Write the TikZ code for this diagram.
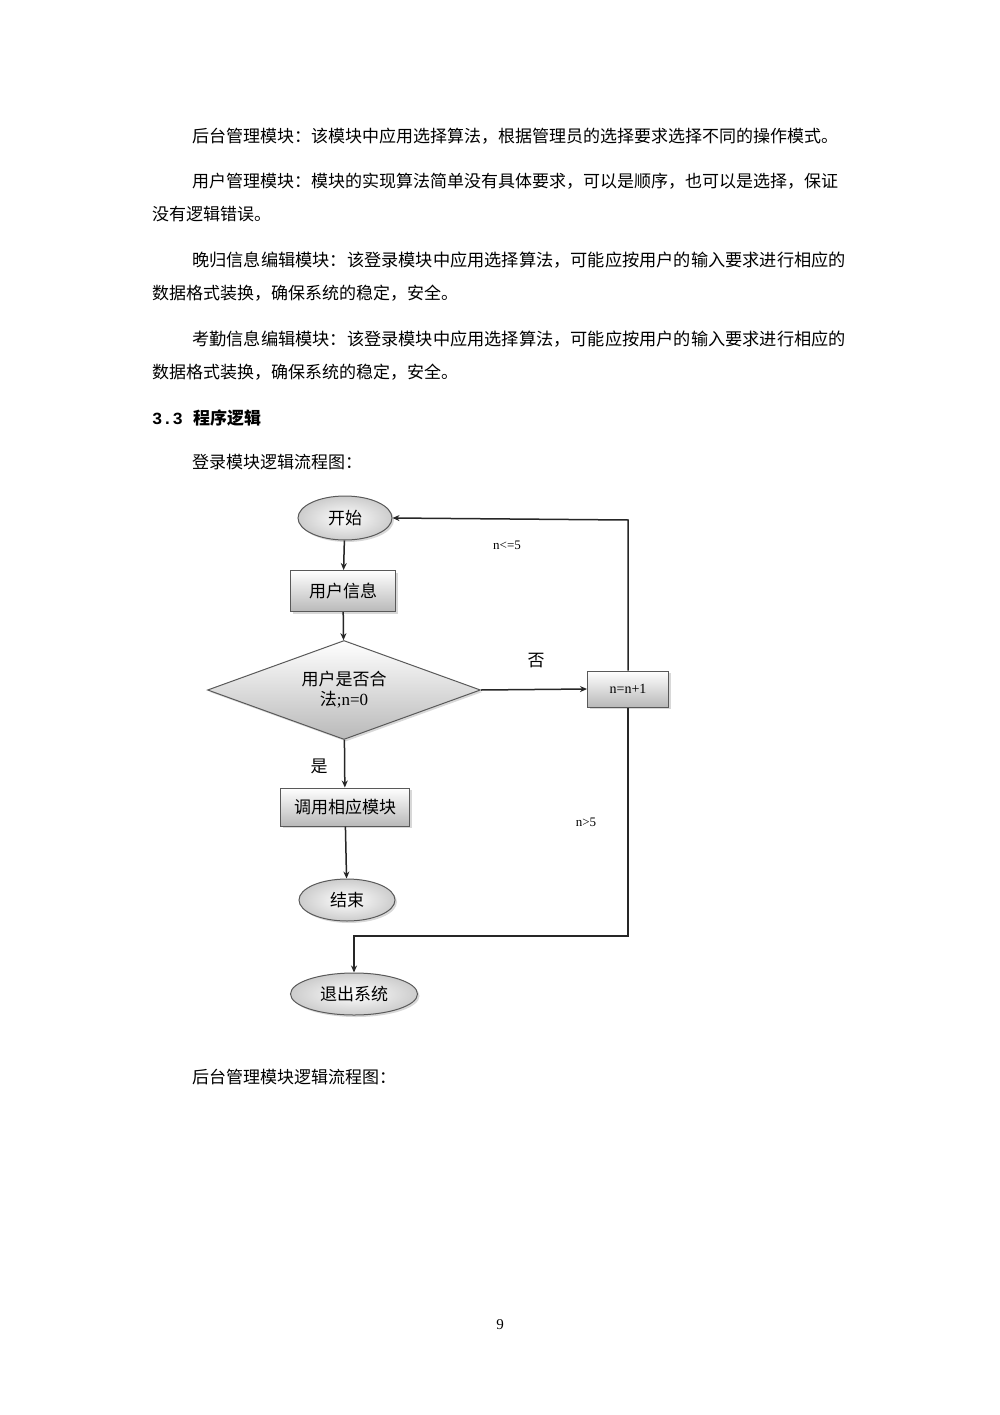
\documentclass[tikz,border=0pt]{standalone}
\usepackage{fontspec}
\setmainfont{Liberation Serif}
\newfontfamily\cjk{Noto Sans CJK SC}
\usetikzlibrary{shapes.geometric,shadows,arrows.meta}
\begin{document}
\begin{tikzpicture}[x=1pt,y=-1pt,
  para/.style={anchor=west,inner sep=0,font=\cjk\fontsize{17}{17}\selectfont},
  fbox/.style={draw=gray!70!black,line width=1pt,top color=white,bottom color=gray!55,drop shadow={opacity=0.3,shadow xshift=2pt,shadow yshift=-2pt},inner sep=0,font=\cjk\fontsize{17}{17}\selectfont},
  oval/.style={ellipse,draw=gray!70!black,line width=1pt,inner color=white,outer color=gray!40,drop shadow={opacity=0.3,shadow xshift=2pt,shadow yshift=-2pt},inner sep=0,font=\cjk\fontsize{17}{17}\selectfont},
  lbl/.style={inner sep=0,font=\fontsize{13}{13}\selectfont},
  conn/.style={draw=black!85,line width=1.5pt,-{Stealth[length=7pt,width=6pt]}}]
\useasboundingbox[fill=white] (0,0) rectangle (1000,1415);
\node[para] (t1) at (192,136) {后台管理模块：该模块中应用选择算法，根据管理员的选择要求选择不同的操作模式。};
\node[para] (t2) at (192,181) {用户管理模块：模块的实现算法简单没有具体要求，可以是顺序，也可以是选择，保证};
\node[para] (t3) at (152,214) {没有逻辑错误。};
\node[para,font=\cjk\fontsize{17.2}{17}\selectfont] (t4) at (192,260) {晚归信息编辑模块：该登录模块中应用选择算法，可能应按用户的输入要求进行相应的};
\node[para] (t5) at (152,293) {数据格式装换，确保系统的稳定，安全。};
\node[para,font=\cjk\fontsize{17.2}{17}\selectfont] (t6) at (192,339) {考勤信息编辑模块：该登录模块中应用选择算法，可能应按用户的输入要求进行相应的};
\node[para] (t7) at (152,372) {数据格式装换，确保系统的稳定，安全。};
\node[para,font=\cjk\bfseries\fontsize{17}{17}\selectfont] (t8) at (152,418) {\fontspec{Liberation Mono}3.3 \cjk\bfseries 程序逻辑};
\node[para] (t9) at (192,462) {登录模块逻辑流程图：};
\node[para] (t10) at (192,1077) {后台管理模块逻辑流程图：};
\node[inner sep=0,font=\fontsize{15}{15}\selectfont] (pg) at (500,1325) {9};

\node[oval,minimum width=94pt,minimum height=44pt] (start) at (345,518) {开始};
\node[fbox,minimum width=105pt,minimum height=41pt] (info) at (343,591) {用户信息};
\node[diamond,aspect=2.76,draw=gray!70!black,line width=1pt,top color=white,bottom color=gray!55,drop shadow={opacity=0.3,shadow xshift=2pt,shadow yshift=-2pt},inner sep=0,minimum width=273pt,minimum height=99pt,align=center,font=\cjk\fontsize{17}{20}\selectfont] (dec) at (344,690) {用户是否合\\法{\fontspec{Liberation Serif};n=0}};
\node[fbox,minimum width=129pt,minimum height=38pt] (call) at (345,807) {调用相应模块};
\node[oval,minimum width=96pt,minimum height=42pt] (end) at (347,900) {结束};
\node[oval,minimum width=127pt,minimum height=42pt] (quit) at (354,994) {退出系统};
\node[fbox,minimum width=81pt,minimum height=36pt,font=\fontsize{14}{14}\selectfont] (inc) at (628,689) {n=n+1};

\coordinate (c1) at (628,520);
\coordinate (c2) at (628,936);
\coordinate (c3) at (354,936);

\draw[conn] (start) -- (info);
\draw[conn] (info) -- (dec);
\draw[conn] (dec) -- (call);
\draw[conn] (call) -- (end);
\draw[conn] (dec.east) -- (inc.west);
\draw[conn] (inc.north) -- (c1) -- (start.east);
\draw[conn] (inc.south) -- (c2) -- (c3) -- (quit.north);

\node[inner sep=0,font=\cjk\fontsize{17}{17}\selectfont] (yes) at (319,766) {是};
\node[inner sep=0,font=\cjk\fontsize{17}{17}\selectfont] (no) at (536,661) {否};
\node[lbl] (le) at (507,545) {n<=5};
\node[lbl] (gt) at (586,822) {n>5};
\end{tikzpicture}
\end{document}
